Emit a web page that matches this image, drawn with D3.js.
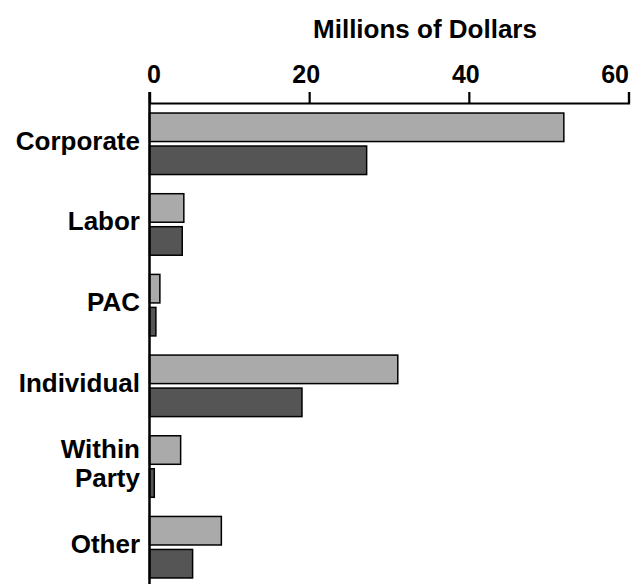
<!DOCTYPE html>
<html>
<head>
<meta charset="utf-8">
<script src="https://cdn.jsdelivr.net/npm/d3@7"></script>
<style>
  html, body { margin: 0; padding: 0; background: #fff; }
  svg { display: block; font-family: "Liberation Sans", Arial, Helvetica, sans-serif; }
</style>
</head>
<body>
<svg id="chart" width="635" height="584"></svg>
<script>
// Contribution sources, in millions of dollars
const categories = ["Corporate", "Labor", "PAC", "Individual", "Within Party", "Other"];
const categoryLines = [["Corporate"], ["Labor"], ["PAC"], ["Individual"], ["Within", "Party"], ["Other"]];
const seriesNames = ["first", "second"];
const firstValues  = [51.9, 4.3, 1.3, 31.1, 3.9, 9.0];
const secondValues = [27.2, 4.1, 0.8, 19.1, 0.6, 5.4];
const tickValues = [0, 20, 40, 60];
const axisTitle = "Millions of Dollars";

const seriesColors = ["#aaaaaa", "#555555"];

const svg = d3.select("#chart");

const x = d3.scaleLinear().domain([0, 60]).range([149.5, 628.5]);
const y = d3.scaleBand()
  .domain(categories)
  .range([103, 588])
  .paddingInner(0.219)
  .paddingOuter(0.115);
const ySub = d3.scaleBand()
  .domain(seriesNames)
  .range([0, y.bandwidth()])
  .paddingInner(0.09);

const rows = categories.map((c, i) => ({
  cat: c,
  lines: categoryLines[i],
  vals: [firstValues[i], secondValues[i]]
}));

// Bars
const groups = svg.append("g").selectAll("g")
  .data(rows).join("g")
  .attr("transform", d => `translate(0,${y(d.cat)})`);

groups.selectAll("rect")
  .data(d => d.vals.map((v, j) => ({ v, s: seriesNames[j], j })))
  .join("rect")
  .attr("x", x(0))
  .attr("y", d => ySub(d.s) + 0.75)
  .attr("width", d => x(d.v) - x(0))
  .attr("height", ySub.bandwidth() - 1.5)
  .attr("fill", d => seriesColors[d.j])
  .attr("stroke", "#000")
  .attr("stroke-width", 1.5);

// Top axis
const xAxis = d3.axisTop(x).tickValues(tickValues).tickSize(11).tickPadding(9).tickSizeOuter(11);
const gx = svg.append("g").attr("transform", "translate(0,103)").call(xAxis);
gx.select(".domain").attr("stroke", "#000").attr("stroke-width", 2.2);
gx.selectAll(".tick line").attr("stroke", "#000").attr("stroke-width", 2.2);
const last = tickValues.length - 1;
gx.selectAll(".tick text")
  .attr("fill", "#000")
  .attr("font-size", 25)
  .attr("font-weight", "bold")
  .attr("font-family", "'Liberation Sans', Arial, sans-serif")
  .attr("text-anchor", (d, i) => i === 0 ? "start" : i === last ? "end" : "middle")
  .attr("dx", (d, i) => i === 0 ? -3 : i === last ? 0 : -3.5);

// Vertical baseline at zero
svg.append("line")
  .attr("x1", x(0)).attr("x2", x(0))
  .attr("y1", 92).attr("y2", 584)
  .attr("stroke", "#000").attr("stroke-width", 2.5);

// Category labels
const labels = svg.append("g").selectAll("text")
  .data(rows).join("text")
  .attr("text-anchor", "end")
  .attr("font-size", 26)
  .attr("font-weight", "bold")
  .attr("fill", "#000")
  .attr("transform", d => `translate(140,${y(d.cat) + y.bandwidth() / 2 - 3})`);

labels.selectAll("tspan")
  .data(d => d.lines.map((t, k) => ({ t, k, n: d.lines.length })))
  .join("tspan")
  .attr("x", 0)
  .attr("y", d => (d.k - (d.n - 1) / 2) * 28.5)
  .attr("dy", "0.34em")
  .text(d => d.t);

// Axis title
svg.append("text")
  .attr("x", 425)
  .attr("y", 38)
  .attr("text-anchor", "middle")
  .attr("font-size", 26)
  .attr("font-weight", "bold")
  .attr("fill", "#000")
  .text(axisTitle);
</script>
</body>
</html>
